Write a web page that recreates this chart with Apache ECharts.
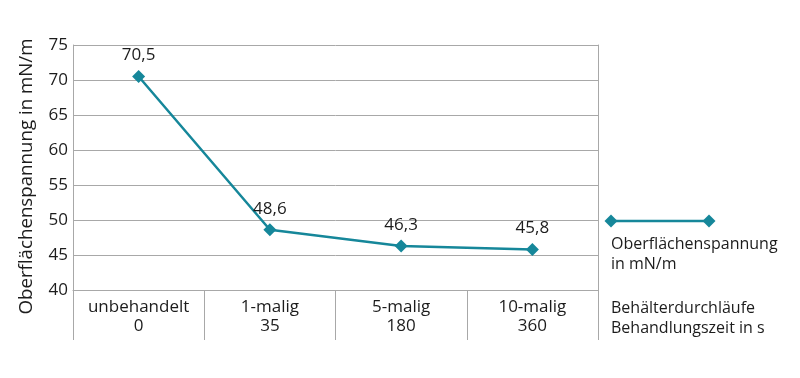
<!DOCTYPE html>
<html>
<head>
<meta charset="utf-8">
<script src="https://cdn.jsdelivr.net/npm/echarts@6/dist/echarts.min.js"></script>
<style>
  html, body { margin: 0; padding: 0; background: #fff; }
  #chart { width: 800px; height: 378px; }
</style>
</head>
<body>
<div id="chart"></div>
<script>
const categories = ['unbehandelt\n0', '1-malig\n35', '5-malig\n180', '10-malig\n360'];
const values = [70.5, 48.6, 46.3, 45.8];
const yMin = 40, yMax = 75, yStep = 5;

const lineColor = '#16879a';
const gridColor = '#a8a8a8';
const textColor = '#1c1c1c';
const fontFamily = 'Open Sans, sans-serif';

const chart = echarts.init(document.getElementById('chart'));
chart.setOption({
  animation: false,
  backgroundColor: '#fff',
  textStyle: { fontFamily: fontFamily },
  grid: { left: 73, right: 202, top: 45, bottom: 88 },
  xAxis: {
    type: 'category',
    data: categories,
    boundaryGap: true,
    axisLine: { lineStyle: { color: gridColor, width: 1 } },
    axisTick: { show: true, length: 50, interval: 0, lineStyle: { color: gridColor, width: 1 } },
    axisLabel: { color: textColor, fontSize: 17, lineHeight: 19, margin: 8, interval: 0, fontFamily: fontFamily }
  },
  yAxis: [
    {
      type: 'value',
      min: yMin, max: yMax, interval: yStep,
      name: 'Oberflächenspannung in mN/m',
      nameLocation: 'middle',
      nameGap: 37,
      nameTextStyle: { color: textColor, fontSize: 18.7, fontFamily: fontFamily, padding: [0, 18, 0, 0] },
      axisLine: { show: true, lineStyle: { color: gridColor } },
      axisTick: { show: false },
      axisLabel: { color: textColor, fontSize: 17, margin: 5, fontFamily: fontFamily },
      splitLine: { lineStyle: { color: gridColor, width: 1 } }
    },
    {
      type: 'value',
      position: 'right',
      min: yMin, max: yMax, interval: yStep,
      axisLine: { show: true, lineStyle: { color: gridColor } },
      axisTick: { show: false },
      axisLabel: { show: false },
      splitLine: { show: false }
    }
  ],
  series: [{
    name: 'Oberflächenspannung in mN/m',
    type: 'line',
    data: values,
    symbol: 'diamond',
    symbolSize: 13,
    lineStyle: { color: lineColor, width: 2.5 },
    itemStyle: { color: lineColor },
    label: {
      show: true,
      position: 'top',
      distance: 6,
      color: textColor,
      fontSize: 17,
      fontFamily: fontFamily,
      formatter: p => String(p.value).replace('.', ',')
    }
  }],
  graphic: [
    { type: 'line', shape: { x1: 611, y1: 221, x2: 709, y2: 221 }, style: { stroke: lineColor, lineWidth: 2.5 } },
    { type: 'polygon', shape: { points: [[611, 214.5], [617.5, 221], [611, 227.5], [604.5, 221]] }, style: { fill: lineColor } },
    { type: 'polygon', shape: { points: [[709, 214.5], [715.5, 221], [709, 227.5], [702.5, 221]] }, style: { fill: lineColor } },
    { type: 'text', left: 611, top: 234, style: { text: 'Oberflächenspannung\nin mN/m', fill: textColor, fontSize: 16, lineHeight: 20, fontFamily: fontFamily } },
    { type: 'text', left: 611, top: 298, style: { text: 'Behälterdurchläufe\nBehandlungszeit in s', fill: textColor, fontSize: 16, lineHeight: 20, fontFamily: fontFamily } }
  ]
});
</script>
</body>
</html>
